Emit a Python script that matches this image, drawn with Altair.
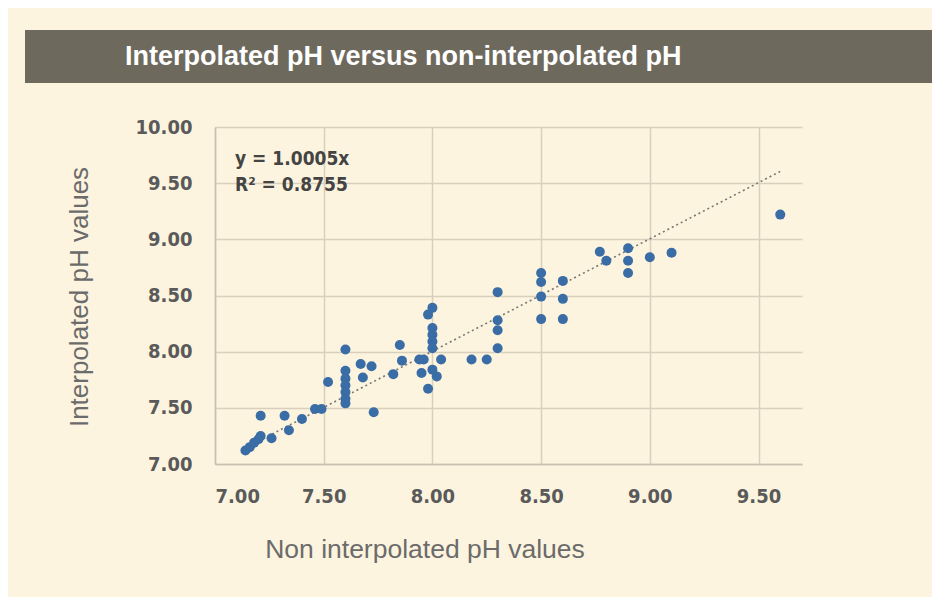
import altair as alt
import pandas as pd

# Data
non_interp = [7.14, 7.16, 7.18, 7.20, 7.21, 7.21, 7.26, 7.32, 7.34, 7.40,
              7.46, 7.49, 7.52, 7.60, 7.60, 7.60, 7.60, 7.60, 7.60, 7.60,
              7.67, 7.72, 7.68, 7.73, 7.82, 7.85, 7.86, 7.94, 7.96, 7.95,
              7.98, 8.00, 7.98, 8.00, 8.00, 8.00, 8.00, 8.00, 8.04, 8.02,
              8.18, 8.25, 8.30, 8.30, 8.30, 8.30, 8.50, 8.50, 8.50, 8.50,
              8.60, 8.60, 8.60, 8.77, 8.80, 8.90, 8.90, 8.90, 9.00, 9.10,
              9.60]
interp = [7.12, 7.15, 7.19, 7.22, 7.25, 7.43, 7.23, 7.43, 7.30, 7.40,
          7.49, 7.49, 7.73, 8.02, 7.83, 7.76, 7.70, 7.64, 7.58, 7.54,
          7.89, 7.87, 7.77, 7.46, 7.80, 8.06, 7.92, 7.93, 7.93, 7.81,
          7.67, 8.39, 8.33, 8.21, 8.15, 8.09, 8.03, 7.84, 7.93, 7.78,
          7.93, 7.93, 8.53, 8.28, 8.19, 8.03, 8.70, 8.62, 8.49, 8.29,
          8.63, 8.47, 8.29, 8.89, 8.81, 8.92, 8.81, 8.70, 8.84, 8.88,
          9.22]
x_ticks = [7.0, 7.5, 8.0, 8.5, 9.0, 9.5]
y_ticks = [7.0, 7.5, 8.0, 8.5, 9.0, 9.5, 10.0]
slope = 1.0005
eq_lines = ["y = 1.0005x", "R² = 0.8755"]

df = pd.DataFrame({"x": non_interp, "y": interp})
trend = pd.DataFrame({"x": [min(non_interp), max(non_interp)]})
trend["y"] = slope * trend["x"]

W, H = 587, 337
BG = "#FDF4DF"
LABEL_FONT = "DejaVu Sans Condensed, DejaVu Sans"

xs = alt.Scale(domain=[7.0, 9.7], nice=False, zero=False)
ys = alt.Scale(domain=[7.0, 10.0], nice=False, zero=False)

xaxis = alt.Axis(values=x_ticks, format=".2f", title=None, grid=True,
                 gridColor="#D8D0BD", gridWidth=1.5, domainColor="#C8C0AE",
                 domainWidth=1.5, ticks=False, labelPadding=22,
                 labelFont=LABEL_FONT, labelFontSize=20, labelFontWeight="bold",
                 labelColor="#5A5A5A")
yaxis = alt.Axis(values=y_ticks, format=".2f", title=None, grid=True,
                 gridColor="#D8D0BD", gridWidth=1.5, domainColor="#C8C0AE",
                 domainWidth=1.5, ticks=False, labelPadding=23,
                 labelFont=LABEL_FONT, labelFontSize=20, labelFontWeight="bold",
                 labelColor="#5A5A5A")

points = alt.Chart(df).mark_circle(size=100, color="#3A6DA6", opacity=1).encode(
    x=alt.X("x:Q", scale=xs, axis=xaxis),
    y=alt.Y("y:Q", scale=ys, axis=yaxis),
)

line = alt.Chart(trend).mark_line(color="#777777", strokeDash=[2, 3], strokeWidth=1.6).encode(
    x=alt.X("x:Q", scale=xs),
    y=alt.Y("y:Q", scale=ys),
)

bar = alt.Chart(pd.DataFrame({"a": [0]})).mark_rect(color="#6E695D").encode(
    x=alt.value(-190), x2=alt.value(725), y=alt.value(-97), y2=alt.value(-44)
)

title = alt.Chart(pd.DataFrame({"t": ["Interpolated pH versus non-interpolated pH"]})).mark_text(
    align="left", baseline="middle", font="Liberation Sans", fontSize=27,
    fontWeight="bold", color="white"
).encode(x=alt.value(-90), y=alt.value(-70), text="t:N")

eq = alt.Chart(pd.DataFrame({"t": eq_lines, "yy": [32, 58]})).mark_text(
    align="left", baseline="middle", font=LABEL_FONT, fontSize=19,
    fontWeight="bold", color="#444444"
).encode(x=alt.value(20), y=alt.Y("yy:Q", scale=None), text="t:N")

ytitle = alt.Chart(pd.DataFrame({"t": ["Interpolated pH values"]})).mark_text(
    align="center", baseline="middle", font="Liberation Sans", fontSize=26,
    color="#6B6B6B", angle=270
).encode(x=alt.value(-135), y=alt.value(170), text="t:N")

xtitle = alt.Chart(pd.DataFrame({"t": ["Non interpolated pH values"]})).mark_text(
    align="center", baseline="middle", font="Liberation Sans", fontSize=26.5,
    color="#6B6B6B"
).encode(x=alt.value(210), y=alt.value(423), text="t:N")

chart = alt.layer(bar, title, line, points, eq, ytitle, xtitle).properties(
    width=W, height=H,
    autosize=alt.AutoSizeParams(type="none"),
    padding={"left": 207, "top": 119, "right": 924 - 207 - W, "bottom": 589 - 119 - H},
    background=BG,
).configure_view(stroke=None)

chart.save("out.html", embed_options={"renderer": "svg", "actions": False})
